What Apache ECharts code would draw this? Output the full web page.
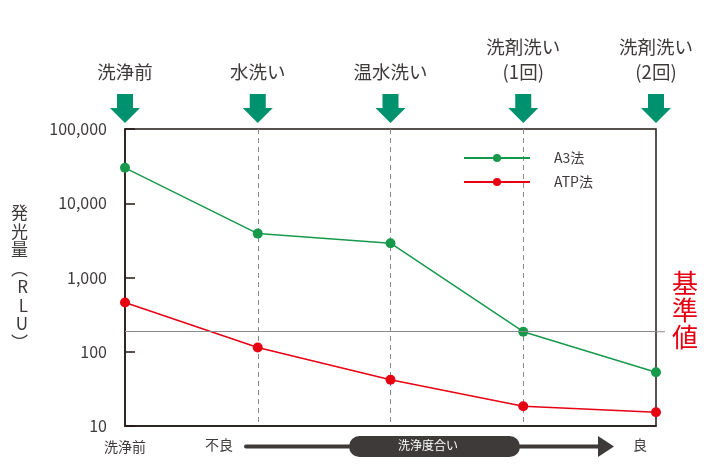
<!DOCTYPE html>
<html><head><meta charset="utf-8">
<script src="https://cdn.jsdelivr.net/npm/echarts@6/dist/echarts.min.js"></script>
<style>html,body{margin:0;padding:0;background:#fff}#c{width:709px;height:472px}</style>
</head><body><div id="c"></div>
<script>
var categories = ['洗浄前','水洗い','温水洗い','洗剤洗い(1回)','洗剤洗い(2回)'];
var topLabels = ['洗浄前','水洗い','温水洗い','洗剤洗い\n(1回)','洗剤洗い\n(2回)'];
var a3Values = [30000, 3900, 2900, 186, 53];
var atpValues = [460, 114, 42, 18.5, 15.3];
var baseline = 186;
var yTicks = [10, 100, 1000, 10000, 100000];

var FONT = '"Noto Sans CJK JP", "Noto Sans", sans-serif';
var TXT = '#3e3a39';
var chart = echarts.init(document.getElementById('c'));
var option = {
  animation: false,
  textStyle: {fontFamily: FONT},
  grid: {left: 125, right: 53, top: 129, bottom: 46, show: true, borderColor: '#231815', borderWidth: 1.5},
  legend: {
    data: ['A3法', 'ATP法'], orient: 'vertical', left: 458, top: 146,
    itemWidth: 66, itemHeight: 10, itemGap: 10,
    textStyle: {fontSize: 14, color: TXT, fontFamily: FONT, padding: [0, 0, 0, 19]}
  },
  xAxis: [{
    type: 'category', data: categories, boundaryGap: false, position: 'bottom',
    axisLine: {show: true, lineStyle: {color: '#231815', width: 1.5}},
    axisTick: {show: false},
    axisLabel: {fontSize: 14, color: TXT, margin: 14, fontFamily: FONT,
      formatter: function (v, i) { return i === 0 ? v : ''; }},
    splitLine: {show: true, interval: function (i) { return i > 0 && i < categories.length - 1; },
      lineStyle: {color: '#8a8a8a', type: [5, 4], width: 1}}
  }, {
    type: 'category', data: topLabels, boundaryGap: false, position: 'top',
    axisLine: {show: false}, axisTick: {show: false}, splitLine: {show: false},
    axisLabel: {fontSize: 18.5, color: TXT, margin: 45, lineHeight: 25, fontFamily: FONT, interval: 0}
  }],
  yAxis: {
    type: 'log', logBase: 10, min: yTicks[0], max: yTicks[yTicks.length - 1],
    name: '発\n光\n量\n︵\nR\nL\nU\n︶', nameLocation: 'middle', nameRotate: 0, nameGap: 97,
    nameTextStyle: {fontSize: 17, lineHeight: 18.5, color: TXT, fontFamily: FONT, padding: [0, 0, 26, 0]},
    axisLine: {show: true, lineStyle: {color: '#231815', width: 1.5}},
    axisTick: {show: true, inside: true, length: 10, lineStyle: {color: '#231815', width: 1.5}},
    splitLine: {show: false},
    axisLabel: {fontSize: 16, color: TXT, margin: 18, fontFamily: FONT,
      formatter: function (v) { return Number(v).toLocaleString('en-US'); }}
  },
  series: [{
    name: 'A3法', type: 'line', data: a3Values, symbol: 'circle', symbolSize: 10,
    itemStyle: {color: '#17994b'}, lineStyle: {color: '#17994b', width: 1.5},
    markLine: {silent: true, symbol: 'none', label: {show: false},
      lineStyle: {color: '#8a8a8a', width: 1, type: 'solid'}, data: [{yAxis: baseline}]},
    z: 3
  }, {
    name: 'ATP法', type: 'line', data: atpValues, symbol: 'circle', symbolSize: 10,
    itemStyle: {color: '#e60012'}, lineStyle: {color: '#e60012', width: 1.5}, z: 3
  }]
};
chart.setOption(option);

var g = [];
var bodyHalf = 8, headHalf = 15;
categories.forEach(function (c, i) {
  var x = chart.convertToPixel({xAxisIndex: 0}, i);
  g.push({type: 'polygon', shape: {points: [
    [x - bodyHalf, 94], [x + bodyHalf, 94], [x + bodyHalf, 108], [x + headHalf, 108],
    [x, 123], [x - headHalf, 108], [x - bodyHalf, 108]]}, style: {fill: '#00916e'}});
});
var yb = chart.convertToPixel({yAxisIndex: 0}, baseline);
var xr = chart.convertToPixel({xAxisIndex: 0}, categories.length - 1);
g.push({type: 'line', shape: {x1: xr, y1: yb, x2: xr + 9, y2: yb}, style: {stroke: '#8a8a8a', lineWidth: 1}});
g.push({type: 'text', left: xr + 16, top: yb - 62, style: {text: '基\n準\n値', fill: '#e60012', fontSize: 26, lineHeight: 27, fontFamily: FONT}});
// bottom cleanliness arrow
g.push({type: 'text', left: 205, top: 438, style: {text: '不良', fill: TXT, fontSize: 14, fontFamily: FONT}});
g.push({type: 'text', left: 633, top: 438, style: {text: '良', fill: TXT, fontSize: 14, fontFamily: FONT}});
g.push({type: 'line', shape: {x1: 246, y1: 446.5, x2: 602, y2: 446.5}, style: {stroke: '#3e3a39', lineWidth: 4, lineCap: 'round'}});
g.push({type: 'polygon', shape: {points: [[598, 436], [614, 446.5], [598, 457]]}, style: {fill: '#3e3a39'}});
g.push({type: 'rect', shape: {x: 349, y: 436, width: 171, height: 21, r: 10.5}, style: {fill: '#3e3a39'}});
g.push({type: 'text', left: 398, top: 439, style: {text: '洗浄度合い', fill: '#fff', fontSize: 12, fontFamily: FONT}});
chart.setOption({graphic: g});
</script></body></html>
